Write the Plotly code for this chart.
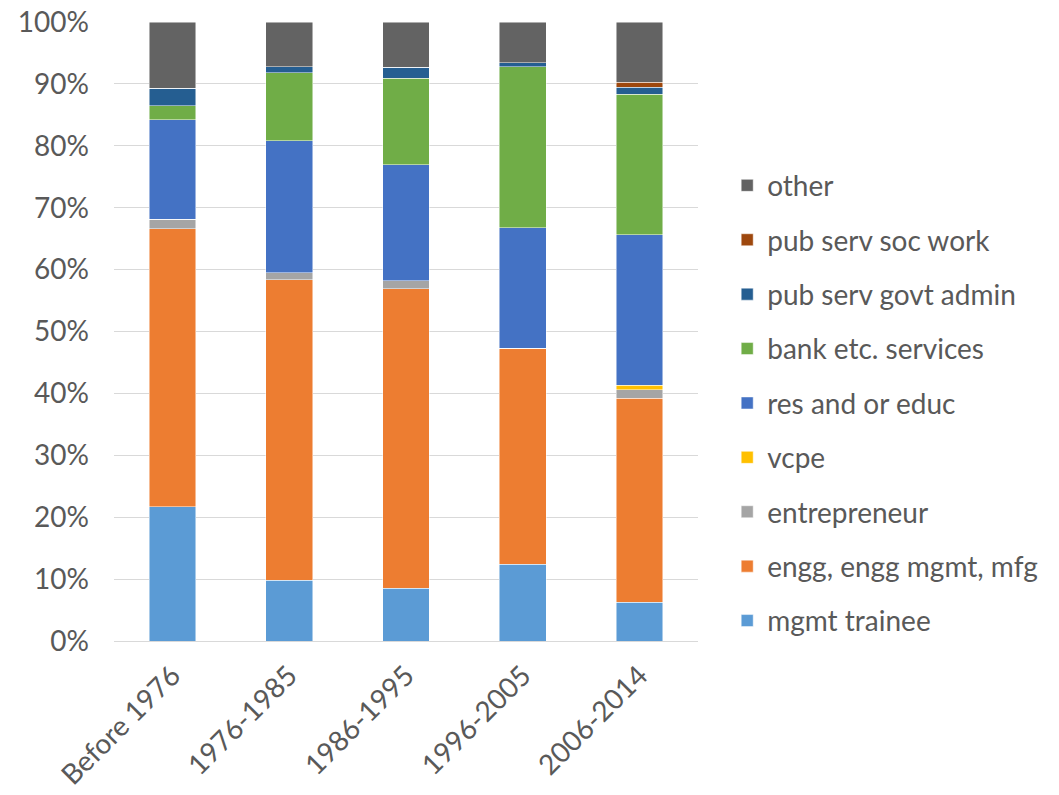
import plotly.graph_objects as go

categories = ["Before 1976", "1976-1985", "1986-1995", "1996-2005", "2006-2014"]

mgmt_trainee = [21.7, 9.8, 8.5, 12.4, 6.3]
engg = [44.9, 48.6, 48.4, 34.8, 32.9]
entrepreneur = [1.5, 1.1, 1.3, 0.1, 1.4]
vcpe = [0.0, 0.0, 0.0, 0.0, 0.7]
res_educ = [16.1, 21.3, 18.7, 19.5, 24.3]
bank = [2.3, 11.0, 14.0, 26.0, 22.7]
govt_admin = [2.8, 1.0, 1.8, 0.6, 1.2]
soc_work = [0.0, 0.0, 0.0, 0.0, 0.8]
other = [10.7, 7.2, 7.3, 6.6, 9.7]

series = [
    ("mgmt trainee", mgmt_trainee, "#5B9BD5"),
    ("engg, engg mgmt, mfg", engg, "#ED7D31"),
    ("entrepreneur", entrepreneur, "#A5A5A5"),
    ("vcpe", vcpe, "#FFC000"),
    ("res and or educ", res_educ, "#4472C4"),
    ("bank etc. services", bank, "#70AD47"),
    ("pub serv govt admin", govt_admin, "#255E91"),
    ("pub serv soc work", soc_work, "#9E480E"),
    ("other", other, "#636363"),
]

fig = go.Figure()
for i, (name, vals, color) in enumerate(series):
    fig.add_trace(go.Bar(
        x=categories, y=vals, name=name, legendgroup=name,
        legendrank=1000 - i,
        marker=dict(color=color, line=dict(color="rgba(255,255,255,0.6)", width=0.8)),
    ))

fig.update_layout(
    barmode="stack",
    barnorm="percent",
    bargap=0.6,
    width=1059, height=795,
    margin=dict(l=114, r=361, t=22, b=154, autoexpand=False),
    plot_bgcolor="white", paper_bgcolor="white",
    font=dict(family="Lato, Open Sans, sans-serif", color="#595959"),
    showlegend=True,
    legend=dict(
        traceorder="grouped",
        tracegroupgap=15,
        x=1.05, xanchor="left",
        y=0.776, yanchor="top",
        font=dict(size=28, color="#595959"),
        itemwidth=30,
        bgcolor="rgba(0,0,0,0)",
    ),
    xaxis=dict(
        tickangle=-45,
        tickfont=dict(size=28, color="#595959"),
        showline=True, linecolor="#D9D9D9", linewidth=1,
        ticks="", automargin=False,
        ticklabelstandoff=6,
    ),
    yaxis=dict(
        range=[0, 100],
        dtick=10,
        ticksuffix="%",
        tickfont=dict(size=28, color="#595959"),
        showgrid=True, gridcolor="#D9D9D9", gridwidth=1,
        zeroline=False,
        ticks="", automargin=False,
        ticklabelstandoff=24,
    ),
)

fig.write_html("out.html", config={"displayModeBar": False},
               post_script="document.body.style.margin='0';")
